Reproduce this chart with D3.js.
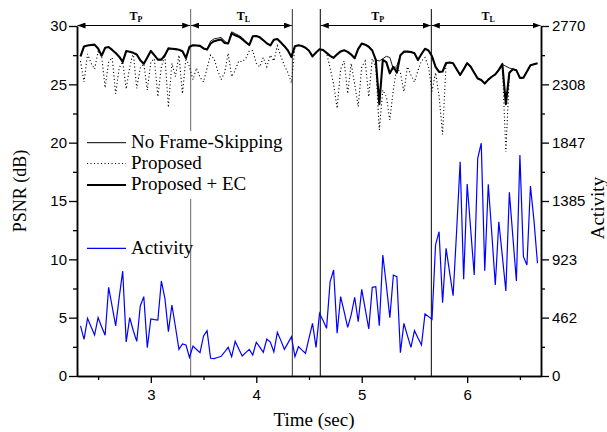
<!DOCTYPE html>
<html><head><meta charset="utf-8">
<script src="https://cdn.jsdelivr.net/npm/d3@7"></script>
<style>body{margin:0;background:#fff}svg{display:block}</style>
</head><body><svg id="c" width="607" height="432"></svg>
<script>
// ---- data ----
const frameStart = 70, frameEnd = 200, fps = 30; // frames 70..200 at 30 fps
const psnrEC = [
27.4, 28.25, 28.33, 28.37, 28.4, 28.07, 27.45, 28.13, 28.2, 27.95,
27.68, 27.37, 26.93, 27.85, 27.8, 27.7, 27.56, 27.06, 26.77, 27.3,
27.86, 27.5, 27.12, 27.12, 27.5, 28.08, 28.05, 28.02, 27.97, 27.83,
27.26, 28.22, 28.35, 28.33, 28.3, 28.08, 27.98, 28.5, 28.7, 28.77,
28.84, 28.55, 28.5, 29.37, 29.2, 29.08, 28.87, 28.62, 28.37, 29.12,
29.14, 29.03, 28.78, 28.52, 28.33, 28.82, 28.88, 28.58, 28.27, 27.9,
27.35, 28.27, 28.35, 28.28, 28.14, 27.88, 27.4, 27.73, 28.0, 27.94,
27.7, 27.44, 27.27, 27.57, 27.82, 27.92, 27.78, 27.55, 27.24, 28.04,
28.49, 28.4, 28.22, 27.9, 27.1, 23.3, 27.1, 26.9, 25.94, 26.5,
26.0, 27.5, 27.8, 27.8, 27.77, 27.67, 27.09, 27.6, 28.05, 27.9,
27.4, 26.5, 26.06, 26.1, 26.83, 26.87, 26.8, 26.3, 25.8, 26.3,
26.82, 26.5, 26.0, 25.5, 25.37, 25.07, 25.4, 25.65, 25.85, 26.24,
26.73, 23.3, 26.0, 26.3, 26.2, 25.55, 25.57, 26.1, 26.63, 26.72,
26.8
];
const psnrNoSkip = [
27.4, 28.25, 28.33, 28.37, 28.4, 28.07, 27.45, 28.13, 28.2, 27.95,
27.68, 27.37, 26.93, 27.85, 27.8, 27.7, 27.56, 27.06, 26.77, 27.3,
27.86, 27.5, 27.12, 27.12, 27.5, 28.08, 28.05, 28.02, 27.97, 27.83,
27.26, 28.22, 28.35, 28.33, 28.3, 28.08, 27.98, 28.7, 28.9, 28.95,
29.03, 28.7, 28.5, 29.5, 29.35, 29.2, 29.0, 28.62, 28.37, 29.12,
29.14, 29.03, 28.78, 28.52, 28.33, 28.82, 28.88, 28.58, 28.27, 27.9,
27.35, 28.27, 28.35, 28.28, 28.14, 27.88, 27.4, 27.73, 28.0, 27.94,
27.7, 27.44, 27.27, 27.57, 27.82, 27.92, 27.78, 27.55, 27.24, 28.04,
28.49, 28.4, 28.22, 27.9, 27.1, 27.0, 27.2, 27.4, 27.3, 26.3,
26.6, 27.5, 27.8, 27.8, 27.77, 27.67, 27.09, 27.6, 28.05, 27.9,
27.4, 26.5, 26.06, 26.1, 26.83, 26.87, 26.8, 26.3, 25.8, 26.3,
26.82, 26.5, 26.0, 25.5, 25.37, 25.07, 25.4, 25.65, 25.85, 26.24,
26.7, 26.55, 26.4, 26.3, 26.2, 25.55, 25.57, 26.1, 26.63, 26.72,
26.8
];
const psnrProposed = [
27.0, 25.2, 27.6, 26.8, 26.3, 27.8, 27.45, 24.7, 26.9, 27.3,
24.2, 26.4, 26.93, 24.6, 26.5, 27.7, 24.66, 26.4, 26.77, 24.5,
26.9, 27.2, 23.94, 26.5, 27.5, 23.03, 26.8, 25.66, 27.5, 24.2,
27.26, 26.5, 25.4, 26.4, 25.6, 25.2, 26.4, 27.5, 27.2, 26.2,
25.4, 26.0, 27.66, 25.66, 26.2, 27.0, 26.94, 27.2, 27.86, 27.9,
26.8, 26.5, 27.3, 26.5, 27.5, 27.0, 28.3, 27.4, 26.6, 26.0,
25.14, 28.27, 28.35, 28.28, 28.14, 27.88, 27.4, 27.73, 28.0, 27.94,
27.7, 26.4, 25.0, 22.94, 26.3, 27.0, 24.2, 26.8, 25.0, 23.1,
26.5, 27.0, 23.94, 27.2, 26.5, 21.1, 24.5, 23.94, 21.94, 24.6,
26.4, 26.0, 24.37, 26.5, 25.8, 25.2, 26.2, 27.0, 27.3, 26.5,
24.4, 26.0, 24.0, 20.7, 26.83, 26.87, 26.8, 26.3, 25.8, 26.3,
26.82, 26.5, 26.0, 25.5, 25.37, 25.07, 25.4, 25.65, 25.85, 26.24,
26.73, 19.2, 26.0, 26.3, 26.2, 25.55, 25.57, 26.1, 26.63, 26.72,
26.8
];
const activity = [
396, 290, 456, 390, 324, 462, 390, 322, 702, 550,
396, 620, 831, 269, 462, 360, 274, 554, 628, 224,
451, 446, 443, 752, 615, 351, 562, 390, 211, 253,
245, 148, 237, 210, 185, 317, 359, 140, 137, 146,
156, 190, 227, 153, 274, 215, 158, 185, 211, 166,
267, 228, 188, 293, 269, 190, 346, 280, 211, 260,
311, 153, 232, 205, 180, 300, 417, 227, 496, 440,
377, 746, 839, 338, 628, 510, 385, 483, 623, 430,
686, 530, 372, 702, 707, 398, 958, 720, 462, 799,
786, 185, 417, 320, 227, 359, 300, 245, 491, 470,
449, 1037, 1142, 580, 1010, 820, 636, 1150, 1696, 765,
1520, 1160, 799, 1723, 1842, 833, 1517, 1130, 720, 1221,
950, 673, 1454, 1100, 752, 1749, 944, 878, 1504, 1230,
892
];
const xTicks = [3, 4, 5, 6];
const xMinorTicks = [2.5, 3.5, 4.5, 5.5, 6.5];
const psnrTicks = [0, 5, 10, 15, 20, 25, 30];
const psnrMinorTicks = [2.5, 7.5, 12.5, 17.5, 22.5, 27.5];
const activityTicks = [0, 462, 923, 1385, 1847, 2308, 2770];
const boundaries = [3.378, 4.342, 4.607, 5.66];
const boundaryColors = ["#666", "#333", "#000", "#000"];
const periodStarts = [2.3, 3.378, 4.607, 5.66];
const periodEnds = [3.378, 4.342, 5.66, 6.7];
const periodSubs = ["P", "L", "P", "L"];
const legendLabels = ["No Frame-Skipping", "Proposed", "Proposed + EC"];

// ---- chart ----
const svg = d3.select("#c");
const x = d3.scaleLinear().domain([2.3, 6.7]).range([77, 541]);
const y = d3.scaleLinear().domain([0, 30]).range([376, 26]);
const yAct = d3.scaleLinear().domain([0, 2770]).range([376, 26]);
const frames = d3.range(frameStart, frameEnd + 1);
const fx = (d, i) => x(frames[i] / fps);

const serif = "'Liberation Serif','Times New Roman',serif";
const sans = "'Liberation Sans',Arial,sans-serif";

// boundary lines
svg.append("g").selectAll("line").data(boundaries).join("line")
  .attr("x1", d => x(d)).attr("x2", d => x(d))
  .attr("y1", 9).attr("y2", y(0))
  .attr("stroke", (d, i) => boundaryColors[i]).attr("stroke-width", 1);

// arrows
const defs = svg.append("defs");
defs.append("marker").attr("id", "ah").attr("viewBox", "0 0 8 6")
  .attr("refX", 8).attr("refY", 3).attr("markerWidth", 8).attr("markerHeight", 6)
  .attr("markerUnits", "userSpaceOnUse").attr("orient", "auto-start-reverse")
  .append("path").attr("d", "M0,0 L8,3 L0,6 Z").attr("fill", "#000");
const ay = 25.5;
svg.append("g").selectAll("line").data(periodStarts).join("line")
  .attr("x1", d => x(d) + 0.5).attr("x2", (d, i) => x(periodEnds[i]) - 0.5)
  .attr("y1", ay).attr("y2", ay).attr("stroke", "#000").attr("stroke-width", 1)
  .attr("marker-start", "url(#ah)").attr("marker-end", "url(#ah)");
const lab = svg.append("g").selectAll("text").data(periodStarts).join("text")
  .attr("x", (d, i) => (x(d) + x(periodEnds[i])) / 2 + 2).attr("y", 20)
  .attr("text-anchor", "middle").attr("font-family", serif)
  .attr("font-weight", "bold").attr("font-size", 12);
lab.append("tspan").text("T");
lab.append("tspan").attr("font-size", 8).attr("dy", 2).text((d, i) => periodSubs[i]);

// data lines
const psnrLine = d3.line().x(fx).y(d => y(d));
svg.append("path").datum(psnrProposed).attr("d", psnrLine)
  .attr("fill", "none").attr("stroke", "#000").attr("stroke-width", 1.1)
  .attr("stroke-dasharray", "1.1,2.4");
svg.append("path").datum(psnrEC).attr("d", psnrLine)
  .attr("fill", "none").attr("stroke", "#000").attr("stroke-width", 2.1)
  .attr("stroke-linejoin", "round");
svg.append("path").datum(psnrNoSkip).attr("d", psnrLine)
  .attr("fill", "none").attr("stroke", "#000").attr("stroke-width", 0.9);
const actLine = d3.line().x(fx).y(d => yAct(d));
svg.append("path").datum(activity).attr("d", actLine)
  .attr("fill", "none").attr("stroke", "#0000ff").attr("stroke-width", 1.2);

// legend
svg.append("rect").attr("x", 80).attr("y", 131).attr("width", 208).attr("height", 68).attr("fill", "#fff");
const lg = svg.append("g");
const legY = [142.7, 163.5, 185];
const legStyles = [
  {w: 1, dash: null}, {w: 1.1, dash: "1.1,2.4"}, {w: 2, dash: null}
];
legendLabels.forEach((l, i) => {
  lg.append("line").attr("x1", 87).attr("x2", 126).attr("y1", legY[i]).attr("y2", legY[i])
    .attr("stroke", "#000").attr("stroke-width", legStyles[i].w)
    .attr("stroke-dasharray", legStyles[i].dash);
  lg.append("text").attr("x", 131).attr("y", legY[i] + 5).attr("font-family", serif)
    .attr("font-size", 19).text(l);
});
lg.append("line").attr("x1", 87).attr("x2", 126).attr("y1", 248.3).attr("y2", 248.3)
  .attr("stroke", "#0000ff").attr("stroke-width", 1.2);
lg.append("text").attr("x", 131).attr("y", 253.5).attr("font-family", serif)
  .attr("font-size", 19).text("Activity");

// axes
function style(g) {
  g.attr("font-family", sans).attr("font-size", 15);
  g.selectAll("path.domain").attr("stroke-width", 1.5);
  g.selectAll(".tick line").attr("stroke-width", 1.3);
}
const intFmt = d3.format("d");
svg.append("g").attr("transform", "translate(77,0)")
  .call(d3.axisLeft(y).tickValues(psnrTicks).tickSize(8).tickSizeOuter(0).tickPadding(2).tickFormat(intFmt)).call(style);
svg.append("g").attr("transform", "translate(77,0)")
  .call(d3.axisLeft(y).tickValues(psnrMinorTicks).tickSize(4).tickSizeOuter(0).tickFormat("")).call(style);
svg.append("g").attr("transform", "translate(541,0)")
  .call(d3.axisRight(yAct).tickValues(activityTicks).tickSize(8).tickSizeOuter(0).tickPadding(3).tickFormat(intFmt)).call(style);
svg.append("g").attr("transform", "translate(541,0)")
  .call(d3.axisRight(y).tickValues(psnrMinorTicks).tickSize(4).tickSizeOuter(0).tickFormat("")).call(style);
svg.append("g").attr("transform", "translate(0,376)")
  .call(d3.axisBottom(x).tickValues(xTicks).tickSize(7).tickSizeOuter(0).tickPadding(6).tickFormat(intFmt)).call(style);
svg.append("g").attr("transform", "translate(0,376)")
  .call(d3.axisBottom(x).tickValues(xMinorTicks).tickSize(4).tickSizeOuter(0).tickFormat("")).call(style);

// titles
svg.append("text").attr("transform", "translate(26,191) rotate(-90)").attr("text-anchor", "middle")
  .attr("font-family", serif).attr("font-size", 18).text("PSNR (dB)");
svg.append("text").attr("transform", "translate(604,208) rotate(-90)").attr("text-anchor", "middle")
  .attr("font-family", serif).attr("font-size", 19).text("Activity");
svg.append("text").attr("x", 314).attr("y", 426).attr("text-anchor", "middle")
  .attr("font-family", serif).attr("font-size", 19).text("Time (sec)");
</script>
</body></html>
